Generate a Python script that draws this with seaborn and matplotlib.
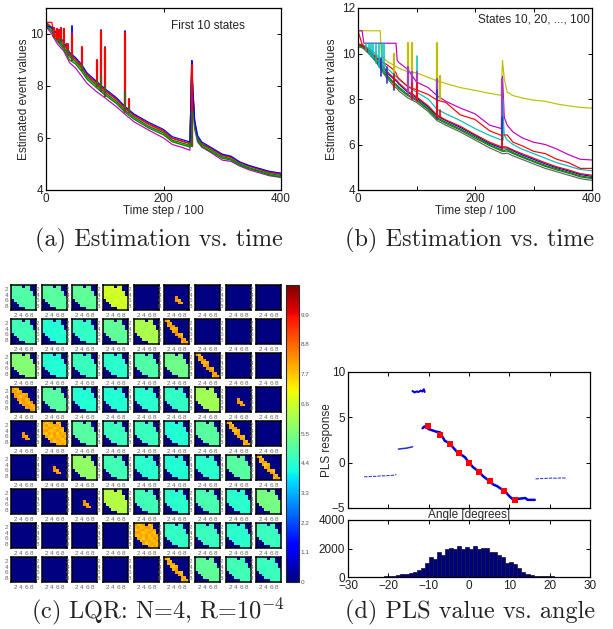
import matplotlib
matplotlib.use('Agg')
import matplotlib.pyplot as plt
from matplotlib.cm import ScalarMappable
from matplotlib.colors import Normalize
import seaborn as sns
import numpy as np
import pandas as pd

# panel (a) traces
steps_a = [0, 3, 10, 12, 20, 30, 40, 50, 60, 70, 85, 100, 120, 135, 150, 175, 200, 215, 230, 245, 248, 250, 253, 258, 265, 280, 300, 315, 330, 345, 360, 380, 400]
a_blue = [10.3, 10.3, 10.25, 10.2, 9.95, 9.7, 9.3, 9.1, 8.85, 8.5, 8.2, 7.9, 7.55, 7.2, 6.92, 6.6, 6.33, 6.05, 5.95, 5.85, 8.98, 7.9, 6.7, 6.1, 5.85, 5.65, 5.38, 5.3, 5.08, 4.95, 4.85, 4.72, 4.65]
a_green = [10.4, 10.35, 10.2, 10.05, 9.8, 9.5, 9.15, 8.95, 8.7, 8.35, 8.05, 7.75, 7.4, 7.05, 6.8, 6.45, 6.2, 5.92, 5.82, 5.72, 8.7, 7.7, 6.55, 5.98, 5.75, 5.55, 5.28, 5.2, 5.0, 4.86, 4.76, 4.63, 4.56]
a_red = [10.4, 10.4, 10.25, 10.1, 9.85, 9.6, 9.2, 9.02, 8.75, 8.42, 8.1, 7.82, 7.47, 7.12, 6.86, 6.52, 6.25, 5.98, 5.88, 5.78, 8.8, 7.8, 6.6, 6.02, 5.78, 5.6, 5.33, 5.25, 5.04, 4.9, 4.8, 4.67, 4.6]
a_cyan = [10.35, 10.3, 10.15, 10.0, 9.75, 9.5, 9.1, 8.9, 8.62, 8.3, 8.0, 7.7, 7.35, 7.02, 6.75, 6.42, 6.15, 5.88, 5.78, 5.68, 8.5, 7.6, 6.5, 5.95, 5.72, 5.5, 5.25, 5.18, 4.98, 4.85, 4.74, 4.6, 4.54]
a_magenta = [10.3, 10.2, 10.0, 9.9, 9.6, 9.35, 8.9, 8.7, 8.4, 8.1, 7.8, 7.55, 7.2, 6.9, 6.62, 6.3, 6.0, 5.75, 5.65, 5.53, 8.2, 7.4, 6.35, 5.85, 5.65, 5.45, 5.15, 5.1, 4.92, 4.78, 4.68, 4.55, 4.48]
a_yellow = [10.38, 10.3, 10.18, 10.02, 9.78, 9.55, 9.12, 8.92, 8.66, 8.34, 8.03, 7.74, 7.38, 7.05, 6.78, 6.45, 6.17, 5.9, 5.8, 5.7, 8.6, 7.65, 6.52, 5.96, 5.73, 5.52, 5.27, 5.2, 5.0, 4.87, 4.76, 4.62, 4.55]
a_green2 = [10.35, 10.25, 10.1, 9.95, 9.7, 9.42, 9.0, 8.85, 8.58, 8.25, 7.95, 7.66, 7.32, 6.98, 6.72, 6.38, 6.12, 5.85, 5.75, 5.65, 8.4, 7.5, 6.45, 5.9, 5.68, 5.48, 5.22, 5.15, 4.95, 4.82, 4.72, 4.58, 4.5]
a_red2 = [10.45, 10.45, 10.45, 10.2, 10.0, 9.7, 9.25, 9.05, 8.8, 8.45, 8.15, 7.85, 7.5, 7.15, 6.88, 6.55, 6.28, 6.0, 5.9, 5.8, 8.85, 7.85, 6.65, 6.05, 5.8, 5.62, 5.35, 5.27, 5.06, 4.92, 4.82, 4.69, 4.62]

a_spike_x = [14, 18, 22, 26, 30, 35, 38, 44, 62, 86, 93, 100, 135, 142, 248]
a_spike_base = [9.9, 9.8, 9.7, 9.7, 9.5, 9.3, 9.2, 9.0, 8.6, 8.0, 7.8, 7.6, 7.0, 7.0, 5.7]
a_spike_blue = [10.25, 10.2, 10.15, 10.25, 10.2, 9.6, 9.6, 10.3, 9.45, 8.95, 10.15, 9.5, 10.1, 7.4, 8.98]
a_spike_red = [10.25, 10.2, 10.15, 10.25, 10.2, 9.6, 9.55, 10.0, 9.5, 9.0, 10.1, 9.45, 10.05, 7.5, 8.8]
a_spike_green = [9.9, 9.8, 9.8, 9.8, 9.6, 9.4, 9.4, 9.2, 8.8, 8.2, 8.4, 8.0, 7.8, 7.2, 7.0]

# panel (b) traces
steps_b = [0, 7, 10, 20, 30, 38, 40, 50, 60, 65, 67, 70, 85, 100, 120, 135, 150, 175, 200, 225, 245, 247, 250, 255, 265, 280, 300, 320, 340, 360, 380, 400]
b_yellow = [11, 11, 11, 11, 11, 11, 9.9, 9.65, 9.5, 9.42, 9.4, 9.35, 9.2, 9.15, 8.95, 8.8, 8.68, 8.5, 8.38, 8.25, 8.16, 9.7, 8.9, 8.3, 8.15, 8.05, 7.95, 7.9, 7.78, 7.7, 7.63, 7.6]
b_magenta = [11, 11, 10.45, 10.45, 10.45, 10.45, 10.45, 10.45, 10.45, 10.45, 9.7, 9.6, 9.3, 8.75, 8.5, 8.15, 7.9, 7.6, 7.35, 6.85, 6.7, 9.0, 7.2, 6.85, 6.55, 6.3, 6.1, 6.0, 5.8, 5.55, 5.35, 5.32]
b_red = [11, 10.4, 10.3, 10.05, 9.85, 9.7, 9.65, 9.5, 9.3, 9.15, 9.0, 8.9, 8.55, 8.4, 8.2, 7.95, 7.85, 7.3, 7.1, 6.6, 6.4, 6.4, 6.42, 6.42, 6.1, 5.95, 5.7, 5.6, 5.35, 5.2, 4.95, 4.95]
b_cyan = [10.4, 10.4, 10.35, 10.2, 10.0, 9.75, 9.7, 9.35, 9.1, 9.0, 8.95, 8.85, 8.55, 8.3, 8.0, 7.55, 7.35, 7.05, 6.7, 6.4, 6.2, 8.0, 6.4, 6.2, 6.0, 5.8, 5.6, 5.4, 5.2, 5.05, 4.9, 4.85]
b_black = [10.3, 10.25, 10.2, 9.95, 9.65, 9.35, 9.25, 8.9, 8.6, 8.5, 8.45, 8.35, 8.05, 7.85, 7.45, 7.05, 6.85, 6.55, 6.2, 5.85, 5.62, 5.6, 5.6, 5.62, 5.5, 5.35, 5.15, 4.95, 4.8, 4.65, 4.5, 4.42]
b_green = [10.35, 10.3, 10.25, 10.0, 9.7, 9.42, 9.32, 8.98, 8.7, 8.6, 8.55, 8.45, 8.15, 7.93, 7.53, 7.13, 6.93, 6.63, 6.28, 5.95, 5.72, 5.7, 5.7, 5.72, 5.6, 5.44, 5.24, 5.04, 4.88, 4.74, 4.58, 4.5]
b_blue = [10.4, 10.35, 10.3, 10.1, 9.85, 9.6, 9.5, 9.15, 8.9, 8.8, 8.75, 8.65, 8.3, 8.05, 7.65, 7.25, 7.05, 6.75, 6.4, 6.05, 5.85, 5.85, 5.85, 5.85, 5.72, 5.55, 5.35, 5.15, 4.98, 4.84, 4.68, 4.6]
b_green2 = [10.38, 10.32, 10.28, 10.05, 9.75, 9.5, 9.38, 9.05, 8.75, 8.65, 8.6, 8.52, 8.2, 7.98, 7.58, 7.18, 6.98, 6.68, 6.34, 6.0, 5.77, 5.75, 5.75, 5.78, 5.65, 5.48, 5.28, 5.08, 4.93, 4.78, 4.62, 4.54]
b_red2 = [10.42, 10.38, 10.33, 10.12, 9.88, 9.62, 9.55, 9.2, 8.95, 8.85, 8.8, 8.7, 8.35, 8.1, 7.7, 7.3, 7.08, 6.8, 6.44, 6.1, 5.9, 5.9, 5.9, 5.88, 5.76, 5.6, 5.4, 5.2, 5.02, 4.88, 4.72, 4.65]

b_cyan_spike_x = [14, 18, 22, 26, 30, 36, 41, 44, 62, 100, 248]
b_cyan_spike_base = [10.1, 10.0, 9.9, 9.8, 9.6, 9.4, 9.4, 9.2, 8.7, 8.2, 6.2]
b_cyan_spike_top = [10.45, 10.45, 10.45, 10.45, 10.45, 10.45, 10.45, 10.45, 9.6, 9.9, 8.0]
b_yellow_spike_x = [62, 85, 93, 135, 140]
b_yellow_spike_base = [8.8, 8.6, 8.4, 8.0, 8.0]
b_yellow_spike_top = [10.0, 10.45, 10.45, 10.45, 9.0]
b_magenta_spike_x = [85, 93, 100, 135, 247]
b_magenta_spike_base = [8.2, 8.0, 8.0, 7.3, 6.6]
b_magenta_spike_top = [9.4, 9.2, 9.2, 8.9, 8.9]
b_red_spike_x = [62, 93, 100, 135, 140, 247]
b_red_spike_base = [8.5, 8.0, 7.9, 7.2, 7.2, 5.8]
b_red_spike_top = [9.0, 8.7, 8.7, 7.9, 7.5, 6.4]
b_blue_spike_x = [40, 50, 62, 135, 247]
b_blue_spike_base = [9.0, 8.7, 8.4, 7.1, 5.8]
b_blue_spike_top = [9.8, 9.4, 9.1, 8.4, 7.2]

# panel (c) value grids
shape_band = ["XXXX.XX..", "XXXXXXX..", "XXXXXXXX.", "XXXXXXXX.", "XXXXXXXXX", ".XXXXXXXX", "..XXXXXXX", "...XXXXXX", ".....XXXX"]
shape_wide = ["XXX......", "XXXX.....", ".XXXXX...", ".XXXXX...", "..XXXXX..", "...XXXXX.", "....XXXXX", ".....XXXX", ".......XX"]
shape_diag = ["XX.......", ".XX......", ".XXX.....", "..XXX....", "...XX....", "....XXX..", ".....XX..", "......XX.", "......XXX"]
shape_tiny = [".........", ".........", ".........", ".........", "....X....", "....XX...", ".....XX..", ".........", "........."]
shape_none = [".........", ".........", ".........", ".........", ".........", ".........", ".........", ".........", "........."]
shapes = {'b': shape_band, 'w': shape_wide, 'd': shape_diag, 't': shape_tiny, '.': shape_none}
panel_shapes = ["bbbb.t...", "bbbbbd...", "bbbbbbd..", "wbbbbbbt.", "tbbbbbbd.", ".tbbbbbbd", "..tbbbbbb", "....bbbbb", ".....dbbb"]
panel_levels = [
    [4.9, 5.0, 5.1, 6.6, 0, 8.0, 0, 0, 0],
    [4.7, 4.3, 4.5, 5.1, 6.1, 8.0, 0, 0, 0],
    [5.6, 4.3, 4.6, 4.4, 4.9, 5.3, 8.0, 0, 0],
    [8.0, 5.0, 4.3, 4.3, 4.4, 4.5, 6.0, 8.0, 0],
    [8.0, 7.9, 5.0, 4.6, 4.6, 4.3, 5.0, 7.9, 0],
    [0, 8.0, 5.8, 4.7, 4.4, 4.3, 4.4, 5.0, 7.9],
    [0, 0, 8.0, 6.2, 4.7, 4.4, 4.8, 4.4, 5.4],
    [0, 0, 0, 0, 7.9, 4.5, 4.6, 4.4, 4.6],
    [0, 0, 0, 0, 0, 7.9, 5.1, 4.7, 4.6],
]
cell_mottle = [
    [0.1, -0.1, 0.0, 0.1, 0.0, -0.1, 0.1, 0.0, 0.0],
    [0.0, 0.1, -0.1, 0.0, 0.1, 0.1, -0.1, 0.0, 0.0],
    [-0.1, 0.0, 0.1, 0.1, -0.1, 0.0, 0.1, 0.1, 0.0],
    [0.1, 0.1, 0.0, -0.1, 0.0, 0.1, 0.0, -0.1, 0.0],
    [0.0, -0.1, 0.1, 0.0, 0.1, -0.1, 0.1, 0.0, 0.1],
    [0.0, 0.1, 0.0, -0.1, 0.1, 0.0, -0.1, 0.1, 0.0],
    [0.0, 0.0, -0.1, 0.1, 0.0, 0.1, 0.0, -0.1, 0.1],
    [0.0, 0.0, 0.0, 0.1, -0.1, 0.0, 0.1, 0.0, -0.1],
    [0.0, 0.0, 0.0, 0.0, 0.0, 0.1, -0.1, 0.1, 0.0],
]
cbar_ticks = [0, 1.1, 2.2, 3.3, 4.4, 5.5, 6.6, 7.7, 8.8, 9.9]
cbar_labels = ['0', '1.1', '2.2', '3.3', '4.4', '5.5', '6.6', '7.7', '8.8', '9.9']

# panel (d)
band_angle = [-11.5, -11, -10, -9, -8, -7.2, -7, -6.5, -6, -5, -4.5, -4, -3, -2.5, -1, 0, 1, 2.5, 3.5, 5, 6, 7, 8, 9, 10, 11, 12, 13, 14, 14.5, 16.3]
band_resp = [3.8, 4.0, 3.7, 3.55, 3.4, 3.35, 3.0, 2.8, 2.4, 2.2, 2.0, 1.7, 1.2, 1.05, 0.6, 0, -0.5, -1.0, -1.5, -2.0, -2.4, -2.6, -2.9, -3.2, -3.7, -4.1, -4.0, -3.95, -3.9, -4.1, -4.1]
high_angle = [-14, -13.5, -13, -12.5, -12, -11.6, -11.2, -11]
high_resp = [7.9, 7.75, 7.85, 7.8, 7.95, 7.85, 8.1, 7.8]
mid_angle = [-17.5, -16.5, -15.5, -14.5, -14]
mid_resp = [1.5, 1.55, 1.6, 1.7, 1.75]
left_angle = [-26, -25, -24, -23, -22, -21, -20, -19, -18.5, -18]
left_resp = [-1.55, -1.55, -1.5, -1.52, -1.45, -1.45, -1.42, -1.4, -1.38, -1.3]
right_angle = [16.5, 17.5, 18.5, 19.5, 20.5, 21.5, 23, 24]
right_resp = [-1.8, -1.75, -1.75, -1.72, -1.7, -1.72, -1.68, -1.7]
marked_angle = [-10.05, -7.2, -4.8, -2.5, 0.1, 2.6, 5.1, 8.8, 11.5]
marked_resp = [4.03, 3.0, 2.05, 1.06, 0.0, -1.02, -1.97, -3.07, -4.14]
hist_counts = [10, 15, 20, 25, 40, 60, 100, 170, 180, 240, 280, 330, 480, 650, 980, 1380, 1270, 1740, 1510, 2000, 2040, 1950, 2200, 1950, 2110, 1960, 2170, 1950, 2020, 2060, 1720, 1740, 1530, 1390, 1000, 1060, 880, 620, 380, 230, 110, 80, 70, 60, 90, 50, 30, 20, 10, 5]
hist_start = -25

W, H = 613, 629
sns.set_theme(style='ticks')
plt.rcParams['font.family'] = ['Liberation Sans', 'DejaVu Sans']
plt.rcParams['mathtext.fontset'] = 'cm'
plt.rcParams['xtick.direction'] = 'in'
plt.rcParams['ytick.direction'] = 'in'
plt.rcParams['text.color'] = '#222222'

LABEL = 8.5
BLUE, GREEN, RED, CYAN, MAGENTA, YELLOW, BLACK = '#0000ff', '#008000', '#ff0000', '#00bfbf', '#bf00bf', '#bfbf00', '#606060'

fig = plt.figure(figsize=(W / 100, H / 100), dpi=100)


def box(left, top, right, bottom):
    return fig.add_axes([left / W, 1 - bottom / H, (right - left) / W, (bottom - top) / H])


def style_box(ax):
    for s in ax.spines.values():
        s.set_visible(True)
        s.set_linewidth(0.9)
        s.set_color('black')
    ax.tick_params(labelsize=LABEL, length=3, width=0.7, top=True, right=True, pad=2, colors='black', labelcolor='#222222')


def traces(ax, steps, series, lw=0.85):
    rows = []
    for name, (vals, col) in enumerate(series):
        rows.append(pd.DataFrame({'step': steps, 'value': vals, 'trace': name}))
    sns.lineplot(data=pd.concat(rows), x='step', y='value', hue='trace', palette=[s[1] for s in series],
                 estimator=None, errorbar=None, linewidth=lw, legend=False, ax=ax)


def spikes(ax, xs, bases, tops, color, lw=1.0):
    rows = []
    for i, (x, b, t) in enumerate(zip(xs, bases, tops)):
        rows.append(pd.DataFrame({'step': [x, x], 'value': [b, t], 'spike': i}))
    sns.lineplot(data=pd.concat(rows), x='step', y='value', units='spike', estimator=None, sort=False,
                 color=color, linewidth=lw, legend=False, ax=ax)


# (a)
ax_a = box(46, 8, 281, 190)
traces(ax_a, steps_a, [(a_magenta, MAGENTA), (a_red2, RED), (a_red, RED), (a_cyan, CYAN), (a_yellow, YELLOW), (a_green, GREEN), (a_green2, GREEN), (a_blue, BLUE)])
spikes(ax_a, a_spike_x, a_spike_base, a_spike_blue, BLUE, 1.3)
spikes(ax_a, a_spike_x, a_spike_base, a_spike_red, RED, 1.6)
spikes(ax_a, a_spike_x, a_spike_base, a_spike_green, '#555522', 1.6)
ax_a.set_xlim(0, 400)
ax_a.set_ylim(4, 11)
ax_a.set_xticks([0, 200, 400])
ax_a.set_yticks([4, 6, 8, 10])
style_box(ax_a)
ax_a.set_xlabel('Time step / 100', fontsize=LABEL, labelpad=0)
ax_a.set_ylabel('Estimated event values', fontsize=LABEL, labelpad=0)
ax_a.text(0.69, 0.9, 'First 10 states', transform=ax_a.transAxes, fontsize=LABEL, ha='center', va='center')

# (b)
ax_b = box(358, 8, 592, 190)
traces(ax_b, steps_b, [(b_black, BLACK), (b_yellow, YELLOW), (b_cyan, CYAN), (b_blue, BLUE), (b_green, GREEN), (b_green2, GREEN), (b_red, RED), (b_red2, RED), (b_magenta, MAGENTA)])
spikes(ax_b, b_cyan_spike_x, b_cyan_spike_base, b_cyan_spike_top, CYAN, 1.1)
spikes(ax_b, b_yellow_spike_x, b_yellow_spike_base, b_yellow_spike_top, YELLOW, 1.6)
spikes(ax_b, b_magenta_spike_x, b_magenta_spike_base, b_magenta_spike_top, '#a040c0', 1.6)
spikes(ax_b, b_blue_spike_x, b_blue_spike_base, b_blue_spike_top, '#3030c0', 1.2)
spikes(ax_b, b_red_spike_x, b_red_spike_base, b_red_spike_top, RED, 1.2)
ax_b.set_xlim(0, 400)
ax_b.set_ylim(4, 12)
ax_b.set_xticks([0, 100, 200, 300, 400], ['0', '', '200', '', '400'])
ax_b.set_yticks([4, 6, 8, 10, 12])
style_box(ax_b)
ax_b.set_xlabel('Time step / 100', fontsize=LABEL, labelpad=0)
ax_b.set_ylabel('Estimated event values', fontsize=LABEL, labelpad=3)
ax_b.text(0.75, 0.935, 'States 10, 20, ..., 100', transform=ax_b.transAxes, fontsize=LABEL, ha='center', va='center')

# (c)
col_left = [11, 42, 72, 103, 134, 164, 195, 226, 256]
row_top = [285, 319, 353, 387, 421, 455, 489, 523, 557]
for r, top in enumerate(row_top):
    for c, left in enumerate(col_left):
        ax = box(left, top, left + 25, top + 25)
        mask = shapes[panel_shapes[r][c]]
        level = panel_levels[r][c]
        gain = 2.5 if level > 6 else 1
        grid = np.array([[level + gain * cell_mottle[i][j] if ch == 'X' else 0 for j, ch in enumerate(line)]
                         for i, line in enumerate(mask)], dtype=float)
        sns.heatmap(grid, cmap='jet', vmin=0, vmax=11, cbar=False, ax=ax, xticklabels=False, yticklabels=False)
        for s in ax.spines.values():
            s.set_visible(True)
            s.set_linewidth(1.1)
            s.set_color('black')
        ax.set_xticks([1.5, 3.5, 5.5, 7.5], ['2', '4', '6', '8'])
        ax.set_yticks([1.5, 3.5, 5.5, 7.5], ['2', '4', '6', '8'], rotation=0)
        ax.tick_params(labelsize=4.6, length=0, pad=2, labelcolor='#666666')

cax = box(286, 285, 299, 582)
fig.colorbar(ScalarMappable(Normalize(0, 11), 'jet'), cax=cax)
cax.set_yticks(cbar_ticks, cbar_labels)
cax.tick_params(labelsize=4.6, length=2, width=0.6, pad=1, left=True, right=True, labelcolor='#555555')
for s in cax.spines.values():
    s.set_linewidth(0.8)

# (d)
ax_d = box(348, 372, 590, 508)
sns.lineplot(x=left_angle, y=left_resp, color='#3040e0', linewidth=0.8, linestyle=(0, (3, 1)), ax=ax_d)
sns.lineplot(x=right_angle, y=right_resp, color='#3040e0', linewidth=0.8, linestyle=(0, (3, 1)), ax=ax_d)
sns.lineplot(x=mid_angle, y=mid_resp, color='#2030e0', linewidth=1.1, ax=ax_d)
sns.lineplot(x=high_angle, y=high_resp, color='#0000e0', linewidth=1.5, ax=ax_d)
sns.lineplot(x=band_angle, y=band_resp, color='#0000e0', linewidth=1.8, ax=ax_d)
sns.scatterplot(x=marked_angle, y=marked_resp, color=RED, marker='s', s=14, linewidth=0, ax=ax_d, zorder=5)
ax_d.set_xlim(-30, 30)
ax_d.set_ylim(-5, 10)
ax_d.set_xticks([-30, -20, -10, 0, 10, 20, 30], [])
ax_d.set_yticks([-5, 0, 5, 10])
style_box(ax_d)
ax_d.set_xlabel('Angle [degrees]', fontsize=LABEL, labelpad=-1)
ax_d.set_ylabel('PLS response', fontsize=LABEL, labelpad=-1)

ax_h = box(348, 520, 590, 577)
centers = hist_start + 0.5 + np.arange(len(hist_counts))
sns.histplot(x=centers, weights=hist_counts, binwidth=1, binrange=(-25, 25), color='#00007f', edgecolor='#111133',
             linewidth=0.5, alpha=1, ax=ax_h)
ax_h.set_xlim(-30, 30)
ax_h.set_ylim(0, 4000)
ax_h.set_xticks([-30, -20, -10, 0, 10, 20, 30])
ax_h.set_yticks([0, 2000, 4000])
style_box(ax_h)
ax_h.set_ylabel('')
ax_h.set_xlabel('')

# captions
cap = dict(family=['cmr10', 'DejaVu Serif'], fontsize=17.5, ha='center', va='baseline', color='#222222')
fig.text(159 / W, 1 - 246 / H, '(a) Estimation vs. time', **cap)
fig.text(470 / W, 1 - 246 / H, '(b) Estimation vs. time', **cap)
fig.text(158 / W, 1 - 618 / H, '(c) LQR: N=4, R=10$^{-4}$', **cap)
fig.text(470 / W, 1 - 618 / H, '(d) PLS value vs. angle', **cap)

fig.savefig('out.png', dpi=100)
